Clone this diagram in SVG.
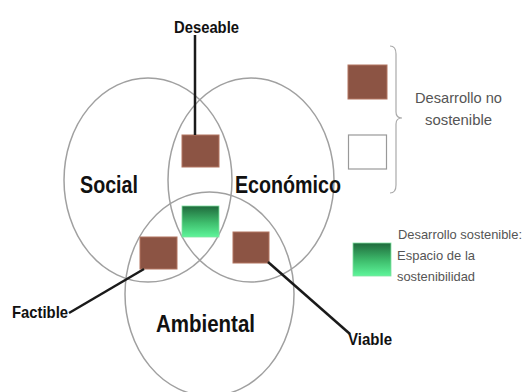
<svg xmlns="http://www.w3.org/2000/svg" width="523" height="392" viewBox="0 0 523 392">
<style>
.circ{fill:none;stroke:#a0a0a0;stroke-width:1.5}
.br{fill:#8c5444;stroke:#b27560;stroke-width:1}
.gr{fill:url(#g);stroke:#7fe0a0;stroke-width:0.8}
.lbl{font-family:"Liberation Sans",Arial,sans-serif;font-weight:bold;fill:#111}
.leg{font-family:"Liberation Sans",Arial,sans-serif;fill:#555}
.ln{stroke:#1a1a1a;stroke-width:2.5;fill:none}
</style>
<defs>
<linearGradient id="g" x1="0" y1="0" x2="0" y2="1">
<stop offset="0" stop-color="#1f6a3c"/>
<stop offset="0.55" stop-color="#3fbf6e"/>
<stop offset="1" stop-color="#5ef59a"/>
</linearGradient>
</defs>
<rect width="523" height="392" fill="#fff"/>
<g id="social"><ellipse class="circ" cx="148" cy="180" rx="84" ry="102"/><text class="lbl" x="80" y="193" font-size="24" textLength="58" lengthAdjust="spacingAndGlyphs">Social</text></g>
<g id="economico"><ellipse class="circ" cx="251" cy="180" rx="83" ry="102"/><text class="lbl" x="235" y="193" font-size="24" textLength="106" lengthAdjust="spacingAndGlyphs">Económico</text></g>
<g id="ambiental"><ellipse class="circ" cx="209.5" cy="294" rx="84.5" ry="102"/><text class="lbl" x="156" y="332" font-size="24" textLength="99" lengthAdjust="spacingAndGlyphs">Ambiental</text></g>
<g id="deseable"><rect class="br" x="182" y="135" width="37" height="32"/><text class="lbl" x="174" y="33" font-size="16.5" textLength="65" lengthAdjust="spacingAndGlyphs">Deseable</text></g>
<g id="sostenible"><rect class="gr" x="182" y="206" width="37" height="31"/></g>
<g id="factible"><rect class="br" x="140" y="237" width="37" height="32"/><text class="lbl" x="12" y="318" font-size="16.5" textLength="56" lengthAdjust="spacingAndGlyphs">Factible</text></g>
<g id="viable"><rect class="br" x="233" y="232" width="36" height="31"/><text class="lbl" x="348" y="345" font-size="16.5" textLength="44" lengthAdjust="spacingAndGlyphs">Viable</text></g>
<g id="connectors">
<line class="ln" x1="195" y1="35" x2="195" y2="135"/>
<line class="ln" x1="69" y1="313" x2="144" y2="269"/>
<line class="ln" x1="268" y1="262" x2="350" y2="334"/>
</g>
<g id="legend">
<rect class="br" x="348" y="65" width="39" height="34"/>
<rect x="348.5" y="135" width="38" height="34" fill="#fff" stroke="#999" stroke-width="1.2"/>
<path d="M390 46 Q396 46 396 54 L396 112 Q396 118 402 118 Q396 118 396 124 L396 185 Q396 193 390 193" fill="none" stroke="#aaa" stroke-width="1.2"/>
<text class="leg" x="415" y="103" font-size="15" textLength="87" lengthAdjust="spacingAndGlyphs">Desarrollo no</text>
<text class="leg" x="425" y="125" font-size="15" textLength="67" lengthAdjust="spacingAndGlyphs">sostenible</text>
<rect class="gr" x="353" y="243" width="38" height="33"/>
<text class="leg" x="398" y="239" font-size="13" textLength="124" lengthAdjust="spacingAndGlyphs" fill="#444">Desarrollo sostenible:</text>
<text class="leg" x="397" y="260" font-size="13" textLength="78" lengthAdjust="spacingAndGlyphs" fill="#444">Espacio de la</text>
<text class="leg" x="397" y="281" font-size="13" textLength="78" lengthAdjust="spacingAndGlyphs" fill="#444">sostenibilidad</text>
</g>
</svg>
